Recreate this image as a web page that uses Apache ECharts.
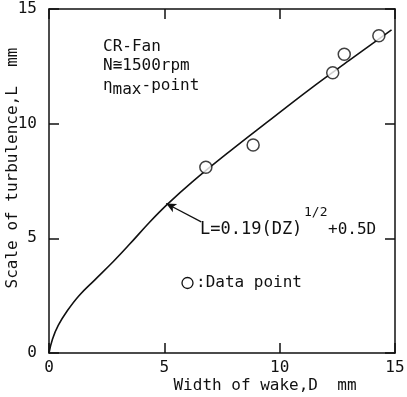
<!DOCTYPE html>
<html>
<head>
<meta charset="utf-8">
<script src="https://cdn.jsdelivr.net/npm/echarts@6/dist/echarts.min.js"></script>
<style>
  html, body { margin: 0; padding: 0; background: #fff; }
  #chart { width: 407px; height: 397px; }
</style>
</head>
<body>
<div id="chart"></div>
<script>
// fitted curve L = 0.19(DZ)^1/2 + 0.5D
const curveD = [0, 0.15, 0.4, 0.8, 1.3, 2.0, 2.8, 3.5, 4.36, 5.15, 6.2, 7.82, 9.5, 11.3, 13.0, 14.85];
const curveL = [0, 0.6, 1.2, 1.85, 2.5, 3.2, 4.0, 4.75, 5.7, 6.5, 7.45, 8.78, 10.1, 11.5, 12.75, 14.09];

// measured data points
const pointD = [6.8, 8.85, 12.3, 12.8, 14.3];
const pointL = [8.1, 9.07, 12.22, 13.03, 13.83];

// arrow from formula label to the curve
const arrowFrom = [6.6, 5.72];
const arrowTo = [5.08, 6.52];

const FONT = '"DejaVu Sans Mono", "Liberation Mono", monospace';
const INK = '#111';

const chart = echarts.init(document.getElementById('chart'));

const axisCommon = {
  type: 'value',
  min: 0,
  max: 15,
  interval: 5,
  splitLine: { show: false },
  axisLine: { show: true, onZero: false, lineStyle: { color: INK, width: 1.5 } },
  axisTick: { show: true, inside: true, length: 10, lineStyle: { color: INK, width: 1.5 } },
};

const option = {
  animation: false,
  backgroundColor: '#fff',
  grid: { left: 49, right: 12, top: 9, bottom: 44, containLabel: false, outerBoundsMode: 'none' },
  xAxis: [
    {
      ...axisCommon,
      position: 'bottom',
      axisLabel: { color: INK, fontFamily: FONT, fontSize: 16, margin: 7 },
      name: 'Width of wake,D  mm',
      nameLocation: 'middle',
      nameGap: 25,
      nameMoveOverlap: false,
      nameTextStyle: { color: INK, fontFamily: FONT, fontSize: 16, padding: [0, 0, 0, 86] },
    },
    {
      ...axisCommon,
      position: 'top',
      axisLabel: { show: false },
    },
  ],
  yAxis: [
    {
      ...axisCommon,
      position: 'left',
      axisLabel: { color: INK, fontFamily: FONT, fontSize: 16, margin: 12 },
      name: 'Scale of turbulence,L  mm',
      nameLocation: 'middle',
      nameGap: 28,
      nameMoveOverlap: false,
      nameTextStyle: { color: INK, fontFamily: FONT, fontSize: 16, padding: [0, 0, 0, 26] },
    },
    {
      ...axisCommon,
      position: 'right',
      axisLabel: { show: false },
    },
  ],
  series: [
    {
      type: 'line',
      data: curveD.map((d, i) => [d, curveL[i]]),
      smooth: 0.4,
      symbol: 'none',
      lineStyle: { color: INK, width: 1.6 },
      markLine: {
        silent: true,
        symbol: ['none', 'arrow'],
        symbolSize: [7, 10],
        label: { show: false },
        lineStyle: { color: INK, width: 1.3, type: 'solid' },
        data: [[{ coord: arrowFrom }, { coord: arrowTo }]],
      },
    },
    {
      type: 'scatter',
      data: pointD.map((d, i) => [d, pointL[i]]),
      symbol: 'circle',
      symbolSize: 12,
      itemStyle: { color: '#fff', borderColor: INK, borderWidth: 1.5 },
      z: 5,
    },
  ],
  graphic: [
    { type: 'text', x: 103, y: 47, style: { text: 'CR-Fan', font: '16px ' + FONT, fill: INK, verticalAlign: 'middle' } },
    { type: 'text', x: 103, y: 66, style: { text: 'N≅1500rpm', font: '16px ' + FONT, fill: INK, verticalAlign: 'middle' } },
    { type: 'text', x: 103, y: 86, style: { text: 'η', font: '16px ' + FONT, fill: INK, verticalAlign: 'middle' } },
    { type: 'text', x: 112.6, y: 90, style: { text: 'max', font: '16px ' + FONT, fill: INK, verticalAlign: 'middle' } },
    { type: 'text', x: 141.5, y: 86, style: { text: '-point', font: '16px ' + FONT, fill: INK, verticalAlign: 'middle' } },
    { type: 'text', x: 200, y: 230, style: { text: 'L=0.19(DZ)', font: '17px ' + FONT, fill: INK, verticalAlign: 'middle' } },
    { type: 'text', x: 304, y: 213, style: { text: '1/2', font: '13px ' + FONT, fill: INK, verticalAlign: 'middle' } },
    { type: 'text', x: 328, y: 230, style: { text: '+0.5D', font: '16px ' + FONT, fill: INK, verticalAlign: 'middle' } },
    { type: 'circle', shape: { cx: 187.5, cy: 283, r: 5.5 }, style: { fill: '#fff', stroke: INK, lineWidth: 1.3 } },
    { type: 'text', x: 196, y: 283, style: { text: ':Data point', font: '16px ' + FONT, fill: INK, verticalAlign: 'middle' } },
  ],
};

chart.setOption(option);
</script>
</body>
</html>
